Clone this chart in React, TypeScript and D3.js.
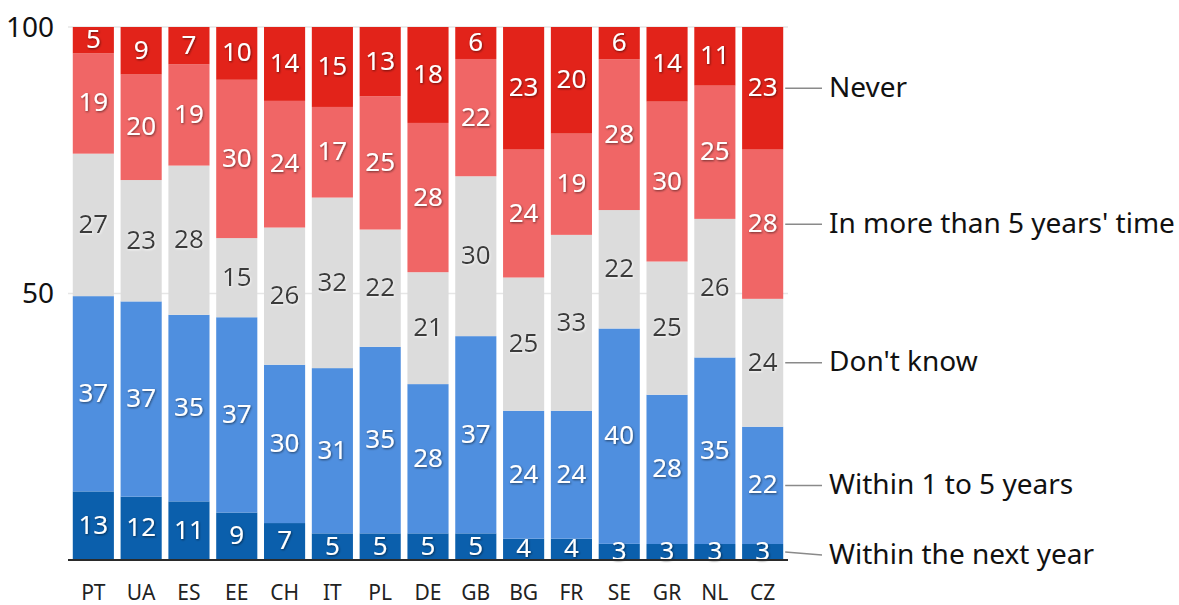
import React from "react";
import * as d3 from "d3";

// Countries in display order
const countries = ["PT", "UA", "ES", "EE", "CH", "IT", "PL", "DE", "GB", "BG", "FR", "SE", "GR", "NL", "CZ"];

// Answer categories, bottom of the stack to top
const categories = ["Within the next year", "Within 1 to 5 years", "Don't know", "In more than 5 years' time", "Never"];

// Share of respondents (%) per country for each answer
const withinNextYear = [13, 12, 11, 9, 7, 5, 5, 5, 5, 4, 4, 3, 3, 3, 3];
const within1to5 = [37, 37, 35, 37, 30, 31, 35, 28, 37, 24, 24, 40, 28, 35, 22];
const dontKnow = [27, 23, 28, 15, 26, 32, 22, 21, 30, 25, 33, 22, 25, 26, 24];
const moreThan5 = [19, 20, 19, 30, 24, 17, 25, 28, 22, 24, 19, 28, 30, 25, 28];
const never = [5, 9, 7, 10, 14, 15, 13, 18, 6, 23, 20, 6, 14, 11, 23];

const yTicks = [50, 100];

const colors = ["#0b5fac", "#4f8fdf", "#dcdcdc", "#f06666", "#e2231a"];
const labelColors = ["#ffffff", "#ffffff", "#3a3a3a", "#ffffff", "#ffffff"];

const seriesValues = [withinNextYear, within1to5, dontKnow, moreThan5, never];

const W = 1179;
const H = 605;
const FONT = "'Noto Sans', 'DejaVu Sans', sans-serif";

export default function App() {
  const rows = countries.map((c, i) => {
    const r: Record<string, any> = { country: c };
    categories.forEach((k, j) => (r[k] = seriesValues[j][i]));
    return r;
  });

  const stacked = d3.stack<any>().keys(categories).offset(d3.stackOffsetExpand)(rows);

  const x = d3.scaleBand<string>().domain(countries).range([68, 788]).paddingInner(0.14).paddingOuter(0.1);
  const y = d3.scaleLinear().domain([0, 1]).range([560, 27]);
  const yPct = d3.scaleLinear().domain([0, 100]).range([560, 27]);

  const lastIdx = countries.length - 1;
  const lastRight = (x(countries[lastIdx]) ?? 0) + x.bandwidth();
  const legendNudge = [3, 0, 0, 0, 0];

  return (
    <svg
      width={W}
      height={H}
      style={{ position: "absolute", left: 0, top: 0, background: "#fff" }}
      fontFamily={FONT}
    >
      <defs>
        <filter id="lblShadow" x="-30%" y="-30%" width="160%" height="160%">
          <feDropShadow dx="0.8" dy="1" stdDeviation="0.9" floodColor="#000" floodOpacity="0.55" />
        </filter>
        <filter id="lblGlow" x="-30%" y="-30%" width="160%" height="160%">
          <feDropShadow dx="0.5" dy="0.8" stdDeviation="0.8" floodColor="#fff" floodOpacity="0.9" />
        </filter>
      </defs>

      {/* gridlines */}
      {yTicks.map((t) => (
        <line key={t} x1={68} x2={788} y1={yPct(t)} y2={yPct(t)} stroke="#e6e6e6" strokeWidth={1.5} />
      ))}

      {/* y tick labels */}
      {yTicks.map((t) => (
        <text
          key={"yl" + t}
          x={54}
          y={yPct(t) + 2}
          textAnchor="end"
          dominantBaseline="middle"
          fontSize={28}
          fill="#111"
        >
          {t}
        </text>
      ))}

      {/* stacked bars */}
      {stacked.map((s, si) => (
        <g key={s.key}>
          {s.map((d, i) => (
            <rect
              key={i}
              x={x(countries[i])}
              width={x.bandwidth()}
              y={y(d[1])}
              height={y(d[0]) - y(d[1])}
              fill={colors[si]}
            />
          ))}
        </g>
      ))}

      {/* value labels */}
      {stacked.map((s, si) => (
        <g key={"l" + s.key}>
          {s.map((d, i) => (
            <text
              key={i}
              x={(x(countries[i]) ?? 0) + x.bandwidth() / 2}
              y={(y(d[0]) + y(d[1])) / 2 + 1}
              textAnchor="middle"
              dominantBaseline="middle"
              fontSize={26}
              fill={labelColors[si]}
              filter={si === 2 ? "url(#lblGlow)" : "url(#lblShadow)"}
            >
              {seriesValues[si][i]}
            </text>
          ))}
        </g>
      ))}

      {/* baseline */}
      <line x1={68} x2={788} y1={560} y2={560} stroke="#2a2a2a" strokeWidth={2} />

      {/* country labels */}
      {countries.map((c) => (
        <text
          key={"c" + c}
          x={(x(c) ?? 0) + x.bandwidth() / 2}
          y={594}
          textAnchor="middle"
          dominantBaseline="middle"
          fontSize={21}
          fill="#222"
        >
          {c}
        </text>
      ))}

      {/* series labels next to the last bar */}
      {stacked.map((s, si) => {
        const d = s[lastIdx];
        const yc = (y(d[0]) + y(d[1])) / 2;
        return (
          <g key={"lg" + s.key}>
            <line
              x1={lastRight + 2}
              x2={822}
              y1={yc}
              y2={yc + legendNudge[si]}
              stroke="#8a8a8a"
              strokeWidth={1.5}
            />
            <text
              x={829}
              y={yc + legendNudge[si] + 1}
              dominantBaseline="middle"
              fontSize={28}
              fill="#111"
            >
              {s.key}
            </text>
          </g>
        );
      })}
    </svg>
  );
}
